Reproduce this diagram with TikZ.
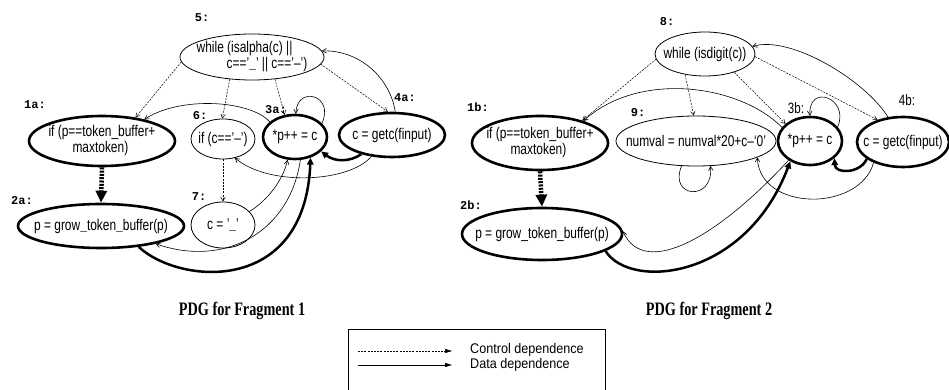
\documentclass[tikz,border=0pt]{standalone}
\usepackage{fontspec}
\usetikzlibrary{arrows.meta,shapes.geometric}
\newfontfamily\nodefont[FakeStretch=0.77]{Liberation Sans}
\newfontfamily\legfont[FakeStretch=0.9]{Liberation Sans}
\newfontfamily\labfont{Liberation Mono}
\newfontfamily\capfont[FakeStretch=0.75]{Liberation Serif}
\newcommand{\nt}[1]{\makebox[0pt]{#1}}
\newcommand{\ntt}[2]{\makebox[0pt]{\begin{tabular}{@{}l@{}}#1\\#2\end{tabular}}}
\begin{document}
\begin{tikzpicture}[x=1pt,y=-1pt,
  pdg/.style={ellipse, draw, line width=0.8pt, inner sep=0pt,
    font=\nodefont\fontsize{15.5}{15}\selectfont},
  thk/.style={pdg, line width=2.6pt},
  lab/.style={inner sep=0pt, font=\labfont\bfseries\fontsize{12}{12}\selectfont},
  slab/.style={inner sep=0pt, font=\nodefont\fontsize{15}{15}\selectfont},
  captxt/.style={inner sep=0pt, font=\capfont\bfseries\fontsize{19}{19}\selectfont},
  ctrl/.style={dash pattern=on 2pt off 1.2pt, line width=0.5pt, -{Straight Barb[length=4pt,width=4.5pt]}},
  dat/.style={line width=0.6pt, -{Straight Barb[length=4pt,width=4.5pt]}},
  tdat/.style={line width=2.5pt, -{Triangle[length=7pt,width=6.5pt]}},
  tctrl/.style={line width=4.5pt, dash pattern=on 2pt off 1.3pt, -{Triangle[length=12pt,width=11pt]}},
  legtxt/.style={inner sep=0pt, anchor=west, font=\legfont\fontsize{14}{14}\selectfont}
]
\useasboundingbox (0,0) rectangle (949,390);

% ---------------- Fragment 1 ----------------
\node[pdg, minimum width=144pt, minimum height=46pt] (n5) at (252,57)
  {\ntt{while (isalpha(c) ||}{\hspace*{30pt}c==’\textbf{\_}’ || c==’–’)}};
\node[thk, minimum width=146pt, minimum height=50pt] (n1a) at (102,141)
  {\ntt{if (p==token\_buffer+}{\hspace*{24pt}maxtoken)}};
\node[pdg, minimum width=64pt, minimum height=40pt] (n6) at (223,139) {\nt{if (c==’–’)}};
\node[thk, minimum width=64pt, minimum height=44pt] (n3a) at (295,137) {\nt{*p++ = c}};
\node[thk, minimum width=106pt, minimum height=44pt] (n4a) at (392,135) {\nt{c = getc(finput)}};
\node[thk, minimum width=166pt, minimum height=44pt] (n2a) at (101,226) {\nt{p = grow\textbf{\_}token\textbf{\_}buffer(p)}};
\node[pdg, minimum width=64pt, minimum height=46pt] (n7) at (223,225) {\nt{c = ’\textbf{\_}’}};

\node[lab] (l5) at (202,18) {5:};
\node[lab] (l1a) at (35,105) {1a:};
\node[lab] (l6) at (200,116) {6:};
\node[lab] (l3a) at (276,110) {3a:};
\node[lab] (l4a) at (405,98) {4a:};
\node[lab] (l2a) at (22,201) {2a:};
\node[lab] (l7) at (199,197) {7:};

% control
\draw[ctrl] (n5.184) -- (n1a.35);
\draw[ctrl] (n5.225) -- (n6.92);
\draw[ctrl] (n5.316) -- (n3a.115);
\draw[ctrl] (n5.354) -- (n4a.100);
\draw[ctrl] (n6.270) -- (n7.90);
\draw[tctrl] (n1a.270) -- (n2a.90);
% data
\draw[dat] (n3a.149) .. controls (250,100) and (180,96) .. (n1a.27);
\draw[dat] (n3a.27) .. controls (335,95) and (297,85) .. (n3a.88);
\draw[dat] (n4a.82) .. controls (390,78) and (360,50) .. (n5.5);
\draw[tdat] (n4a.212) .. controls (350,162) and (335,162) .. (n3a.331);
\draw[dat] (n4a.226) .. controls (350,182) and (270,187) .. (n6.302);
\draw[dat] (n7.27) .. controls (268,200) and (283,180) .. (n3a.252);
\draw[dat] (n3a.283) .. controls (290,232) and (225,268) .. (n2a.342);
\draw[tdat] (n2a.331) .. controls (180,285) and (305,295) .. (n3a.307);

\node[captxt] (c1) at (242,311) {PDG for Fragment 1};

% ---------------- Fragment 2 ----------------
\node[pdg, minimum width=100pt, minimum height=44pt] (n8) at (705,54) {\nt{while (isdigit(c))}};
\node[thk, minimum width=136pt, minimum height=54pt] (n1b) at (540,143)
  {\ntt{if (p==token\_buffer+}{\hspace*{24pt}maxtoken)}};
\node[pdg, minimum width=160pt, minimum height=50pt] (n9) at (696,141) {\nt{numval = numval*20+c–‘0’}};
\node[thk, minimum width=64pt, minimum height=48pt] (n3b) at (810,141) {\nt{*p++ = c}};
\node[thk, minimum width=92pt, minimum height=50pt] (n4b) at (903,142) {\nt{c = getc(finput)}};
\node[thk, minimum width=160pt, minimum height=52pt] (n2b) at (542,234) {\nt{p = grow\_token\_buffer(p)}};

\node[lab] (l8) at (667,22) {8:};
\node[lab] (l1b) at (478,107) {1b:};
\node[lab] (l9) at (638,113) {9:};
\node[slab] (l3b) at (796,108) {3b:};
\node[slab] (l4b) at (907,100) {4b:};
\node[lab] (l2b) at (471,205) {2b:};

% control
\draw[ctrl] (n8.186) -- (n1b.28);
\draw[ctrl] (n8.226) -- (n9.95);
\draw[ctrl] (n8.328) -- (n3b.145);
\draw[ctrl] (n8.357) -- (n4b.139);
\draw[tctrl] (n1b.270) -- (n2b.90);
% data
\draw[dat] (n3b.154) .. controls (740,85) and (640,70) .. (n1b.27);
\draw[dat] (n3b.27) .. controls (850,98) and (808,83) .. (n3b.90);
\draw[dat] (n4b.121) .. controls (865,80) and (790,35) .. (n8.9);
\draw[tdat] (n4b.205) .. controls (860,174) and (835,174) .. (n3b.325);
\draw[dat] (n4b.215) .. controls (860,212) and (760,212) .. (n9.345);
\draw[dat] (n3b.222) .. controls (720,235) and (645,280) .. (n2b.2);
\draw[tdat] (n2b.345) .. controls (630,290) and (745,280) .. (n3b.226);
\draw[dat] (n9.240) .. controls (668,198) and (714,202) .. (n9.300);

\node[captxt] (c2) at (709,311) {PDG for Fragment 2};

% ---------------- Legend ----------------
\draw[line width=0.6pt] (348,392) |- (605,329) -- (605,392);
\coordinate (lc1) at (358,351);
\coordinate (lc2) at (452,351);
\coordinate (ld1) at (358,365);
\coordinate (ld2) at (452,365);
\draw[dash pattern=on 2pt off 1.2pt, line width=0.5pt, -{Triangle[length=7pt,width=4pt]}] (lc1) -- (lc2);
\draw[line width=0.8pt, -{Triangle[length=7pt,width=4pt]}] (ld1) -- (ld2);
\node[legtxt] (lt1) at (470,350) {Control dependence};
\node[legtxt] (lt2) at (470,365) {Data dependence};
\end{tikzpicture}
\end{document}
